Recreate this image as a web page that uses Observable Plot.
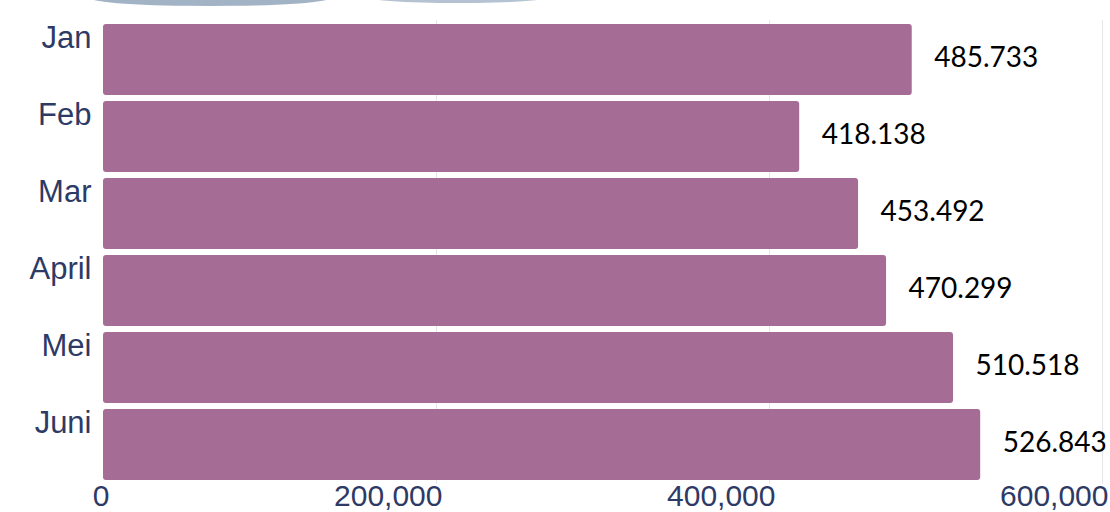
<!DOCTYPE html>
<html>
<head>
<meta charset="utf-8">
<script src="https://cdn.jsdelivr.net/npm/d3@7"></script>
<script src="https://cdn.jsdelivr.net/npm/@observablehq/plot@0.6"></script>
<style>
  html, body { margin: 0; padding: 0; background: #fff; width: 1110px; height: 512px; overflow: hidden; }
  #wrap { position: relative; width: 1110px; height: 512px; }
  .deco { position: absolute; background: #a3b3c6; border-radius: 50%; }
</style>
</head>
<body>
<div id="wrap">
  <div class="deco" style="left:90px; top:-10px; width:240px; height:16px;"></div>
  <div class="deco" style="left:362px; top:-10px; width:192px; height:13px; opacity:0.8;"></div>
  <div id="chart"></div>
</div>
<script>
const months = ["Jan", "Feb", "Mar", "April", "Mei", "Juni"];
const values = [485733, 418138, 453492, 470299, 510518, 526843];
const xTicks = [0, 200000, 400000, 600000];

const data = months.map((m, i) => ({month: m, value: values[i]}));
const fmtDot = v => d3.format(",")(v).replace(/,/g, ".");

const chart = Plot.plot({
  width: 1110,
  height: 512,
  marginLeft: 103,
  marginRight: 8,
  marginTop: 20,
  marginBottom: 28,
  style: {background: "transparent", overflow: "visible"},
  x: {domain: [0, 600000], axis: null},
  y: {domain: months, paddingInner: 0.08, paddingOuter: 0.02, axis: null},
  marks: [
    Plot.gridX(xTicks.slice(1), {stroke: "#e6e6ea", strokeOpacity: 1, strokeWidth: 1}),
    Plot.barX(data, {y: "month", x: "value", fill: "#a56d95", rx: 3}),
    Plot.text(data, {
      y: "month", x: "value", text: d => fmtDot(d.value),
      textAnchor: "start", dx: 22, dy: -2,
      fontSize: 28, fill: "#000", fontFamily: "Lato, 'Open Sans', sans-serif"
    }),
    Plot.axisY({
      tickSize: 0, tickPadding: 12, dy: -22,
      fontSize: 31, fontFamily: "'Liberation Sans', Arial, sans-serif",
      color: "#2e3a66", label: null
    }),
    Plot.axisX(xTicks, {
      tickSize: 0, tickPadding: 0, textAnchor: "end", dx: 6,
      tickFormat: d3.format(","),
      fontSize: 30, fontFamily: "'Liberation Sans', Arial, sans-serif",
      color: "#2e3a66", label: null
    })
  ]
});
document.getElementById("chart").appendChild(chart);
</script>
</body>
</html>
